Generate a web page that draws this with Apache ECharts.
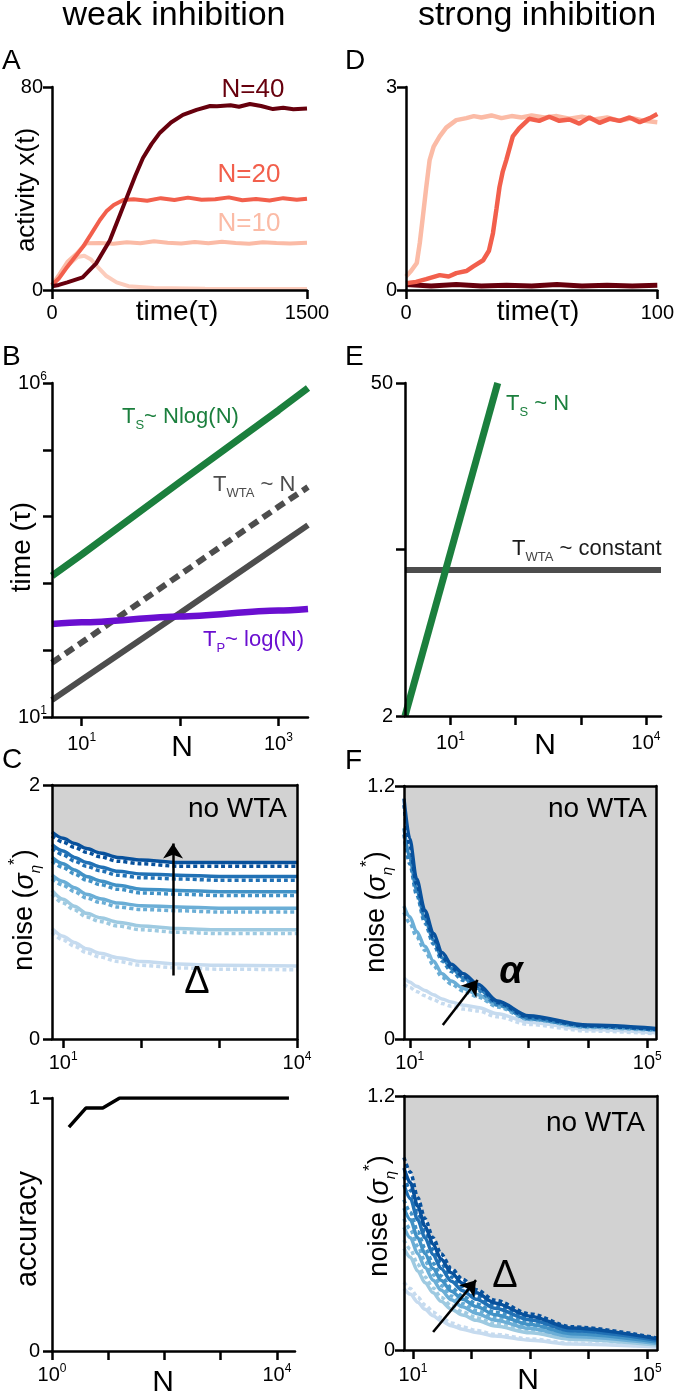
<!DOCTYPE html>
<html>
<head>
<meta charset="utf-8">
<script src="https://cdn.jsdelivr.net/npm/echarts@6/dist/echarts.min.js"></script>
<style>
  html, body { margin: 0; padding: 0; background: #fff; }
  #chart { width: 677px; height: 1395px; }
</style>
</head>
<body>
<div id="chart"></div>
<script>
var FONT = "'Liberation Sans', Arial, Helvetica, sans-serif";
var log = Math.log10;

// ---- A: weak inhibition, activity traces [time, x(t)]
var weakN40 = [[0,1.5],[40,2],[90,3],[180,5],[260,10.5],[340,19.5],[390,28],[440,36.5],[490,45],[535,52],[585,57.5],[635,62],[700,66],[770,69],[850,71],[930,72.5],[970,72.4],[1050,72.8],[1100,72.2],[1164,73.3],[1230,72.5],[1300,71.3],[1360,71.8],[1420,71.2],[1500,71.5]];
var weakN20 = [[0,2],[40,4.5],[88,9],[135,13],[182,17],[230,22],[282,27.6],[320,31],[363,33.5],[420,35.5],[480,35.8],[560,35.2],[640,36.2],[720,35.5],[800,36.4],[880,35.6],[960,35.8],[1040,36.5],[1120,35.4],[1200,35.9],[1280,35.3],[1360,36.2],[1440,35.6],[1500,36]];
var weakN10 = [[0,2],[41,6],[90,11],[147,14.5],[180,17],[204,18.4],[280,18.5],[360,18.2],[440,18.8],[520,18.4],[600,19.2],[680,18.6],[760,18.3],[840,18.9],[920,18.4],[1000,19.0],[1080,18.5],[1160,18.2],[1240,18.8],[1320,18.5],[1400,18.3],[1500,18.6]];
var weakN10Loser = [[0,1.5],[50,5.5],[100,10],[150,13],[190,13.5],[230,12],[270,9],[320,5.5],[380,3],[450,1.5],[600,0.8],[900,0.5],[1500,0.4]];

// ---- D: strong inhibition, activity traces [time, x(t)]
var strongN10 = [[0,0.2],[2,0.28],[4.3,0.4],[5.5,0.7],[6.7,1.08],[8,1.5],[9.4,1.92],[11,2.12],[13.4,2.27],[16,2.4],[20,2.51],[24,2.54],[27,2.57],[30,2.55],[34,2.58],[38,2.54],[42,2.57],[46,2.55],[50,2.58],[55,2.55],[60,2.57],[65,2.53],[70,2.56],[75,2.52],[80,2.55],[85,2.5],[90,2.54],[95,2.5],[100,2.48]];
var strongN20 = [[0,0.1],[4,0.12],[8,0.16],[13.4,0.22],[17,0.2],[20,0.25],[24,0.28],[26.8,0.35],[30.7,0.44],[33,0.58],[34.6,0.84],[36,1.2],[37.2,1.52],[38.5,1.75],[39.9,1.92],[42.5,2.27],[45,2.39],[49,2.53],[53,2.5],[57,2.56],[61,2.5],[65,2.52],[69,2.46],[73,2.55],[77,2.47],[81,2.53],[85,2.5],[89,2.55],[93,2.48],[97,2.54],[100,2.6]];
var strongN40 = [[0,0.08],[10,0.06],[20,0.08],[30,0.06],[40,0.07],[50,0.06],[60,0.08],[70,0.06],[80,0.07],[90,0.06],[100,0.07]];

// ---- B: time scaling, weak inhibition
var bN = [5, 10, 100, 1000, 2000];
var bSwitch = [1300, 2700, 33000, 390000, 840000];
var bWtaDashed = [65, 130, 1350, 14000, 27700];
var bWtaSolid = [18, 36, 360, 3700, 7450];
var bPlastic = [247, 261, 320, 392, 414];

// ---- E: time scaling, strong inhibition
var eSwitchN = [2, 53];
var eSwitch = [2, 50];
var eWtaN = [2, 17000];
var eWta = [8.2, 8.2];

// ---- C: critical noise, weak inhibition (light -> dark = increasing Delta)
var cN = [7.2, 10, 14, 20, 30, 50, 100, 300, 1000, 10000];
var cSolid = [
  [0.87, 0.81, 0.76, 0.71, 0.675, 0.64, 0.61, 0.59, 0.58, 0.575],
  [1.17, 1.10, 1.045, 0.99, 0.955, 0.92, 0.89, 0.87, 0.86, 0.86],
  [1.29, 1.24, 1.19, 1.14, 1.105, 1.07, 1.05, 1.04, 1.03, 1.03],
  [1.43, 1.38, 1.33, 1.28, 1.245, 1.21, 1.18, 1.17, 1.16, 1.16],
  [1.53, 1.48, 1.43, 1.39, 1.355, 1.32, 1.30, 1.29, 1.28, 1.28],
  [1.63, 1.58, 1.54, 1.50, 1.465, 1.43, 1.41, 1.39, 1.39, 1.39]
];
var cDashed = [
  [0.84, 0.78, 0.73, 0.68, 0.645, 0.61, 0.58, 0.56, 0.55, 0.545],
  [1.14, 1.07, 1.015, 0.96, 0.925, 0.89, 0.86, 0.84, 0.83, 0.83],
  [1.26, 1.21, 1.16, 1.11, 1.075, 1.04, 1.02, 1.01, 1.00, 1.00],
  [1.40, 1.35, 1.30, 1.25, 1.215, 1.18, 1.15, 1.14, 1.13, 1.13],
  [1.50, 1.45, 1.40, 1.36, 1.325, 1.29, 1.27, 1.26, 1.25, 1.25],
  [1.60, 1.55, 1.51, 1.47, 1.435, 1.40, 1.38, 1.36, 1.36, 1.36]
];
var cArrow = [[257, 0.50], [257, 1.54]];

// ---- accuracy, weak inhibition
var gN = [2, 4, 8, 16, 32, 64, 128, 256, 512, 1024, 2048, 4096, 8192, 16384];
var gAcc = [0.885, 0.96, 0.96, 1, 1, 1, 1, 1, 1, 1, 1, 1, 1, 1];

// ---- F: critical noise vs N, strong inhibition (light -> dark = increasing alpha)
var fN = [8, 10, 13, 18, 25, 35, 50, 80, 140, 300, 1000, 10000, 140000];
var fSolid = [
  [0.29, 0.27, 0.25, 0.23, 0.21, 0.19, 0.175, 0.16, 0.15, 0.12, 0.08, 0.045, 0.03],
  [0.63, 0.58, 0.51, 0.44, 0.37, 0.31, 0.275, 0.24, 0.21, 0.16, 0.10, 0.06, 0.045],
  [1.00, 0.86, 0.71, 0.57, 0.47, 0.385, 0.335, 0.29, 0.24, 0.17, 0.10, 0.063, 0.048],
  [1.14, 0.95, 0.76, 0.61, 0.50, 0.41, 0.355, 0.31, 0.26, 0.18, 0.11, 0.066, 0.05]
];
var fDashed = [
  [0.26, 0.245, 0.225, 0.205, 0.187, 0.168, 0.155, 0.142, 0.133, 0.105, 0.069, 0.038, 0.025],
  [0.60, 0.55, 0.485, 0.42, 0.35, 0.293, 0.26, 0.228, 0.20, 0.152, 0.093, 0.055, 0.04],
  [0.97, 0.83, 0.685, 0.55, 0.45, 0.37, 0.32, 0.278, 0.23, 0.163, 0.095, 0.059, 0.044],
  [1.11, 0.92, 0.735, 0.59, 0.48, 0.39, 0.34, 0.297, 0.25, 0.173, 0.104, 0.062, 0.046]
];
var fArrow = [[36, 0.066], [139, 0.28]];

// ---- H: critical noise vs N, strong inhibition (light -> dark = increasing Delta)
var hN = [7, 9, 12, 16, 22, 30, 45, 70, 120, 250, 1000, 5000, 147000];
var hSolid = [
  [0.29, 0.263, 0.226, 0.192, 0.162, 0.138, 0.115, 0.098, 0.083, 0.066, 0.046, 0.028, 0.014],
  [0.48, 0.438, 0.373, 0.318, 0.27, 0.23, 0.193, 0.165, 0.14, 0.113, 0.081, 0.05, 0.024],
  [0.58, 0.53, 0.455, 0.39, 0.33, 0.283, 0.237, 0.204, 0.173, 0.141, 0.101, 0.064, 0.031],
  [0.67, 0.615, 0.53, 0.455, 0.385, 0.33, 0.278, 0.24, 0.205, 0.167, 0.12, 0.077, 0.038],
  [0.78, 0.715, 0.615, 0.53, 0.45, 0.385, 0.325, 0.28, 0.24, 0.197, 0.142, 0.091, 0.046],
  [0.86, 0.79, 0.68, 0.585, 0.50, 0.43, 0.365, 0.315, 0.27, 0.222, 0.16, 0.104, 0.053]
];
var hDashed = [
  [0.32, 0.29, 0.25, 0.213, 0.18, 0.153, 0.128, 0.109, 0.092, 0.074, 0.052, 0.032, 0.016],
  [0.52, 0.475, 0.405, 0.345, 0.293, 0.25, 0.21, 0.18, 0.153, 0.124, 0.089, 0.055, 0.027],
  [0.62, 0.57, 0.49, 0.42, 0.355, 0.305, 0.255, 0.22, 0.187, 0.152, 0.11, 0.069, 0.034],
  [0.71, 0.65, 0.56, 0.48, 0.41, 0.35, 0.295, 0.255, 0.218, 0.178, 0.128, 0.082, 0.041],
  [0.82, 0.755, 0.65, 0.56, 0.475, 0.41, 0.345, 0.30, 0.255, 0.21, 0.15, 0.097, 0.05],
  [0.91, 0.84, 0.72, 0.62, 0.53, 0.455, 0.385, 0.335, 0.285, 0.235, 0.17, 0.11, 0.057]
];
var hArrow = [[22, 0.085], [119, 0.33]];

var reds = { n10: '#fbbba6', n20: '#f25f4c', n40: '#67000d' };
var blues6 = ['#c6dbef', '#9ecae1', '#6baed6', '#4292c6', '#2171b5', '#08519c'];
var blues4 = ['#c6dbef', '#6baed6', '#3182bd', '#08519c'];
var green = '#1b7f3d', gray = '#4d4d4d', purple = '#6a0fd0';
var panelGray = '#d2d2d2';

var dom = document.getElementById('chart');
var myChart = echarts.init(dom, null, { renderer: 'canvas' });

// grid layout (pixels)
var grids = [
  { left: 52, top: 87, width: 255, height: 203 },    // 0 A
  { left: 406, top: 87, width: 254, height: 203 },   // 1 D
  { left: 52, top: 383, width: 256, height: 334 },   // 2 B
  { left: 405, top: 383, width: 256, height: 333 },  // 3 E
  { left: 52, top: 785, width: 245, height: 254 },   // 4 C
  { left: 404, top: 786, width: 252, height: 253 },  // 5 F
  { left: 52, top: 1098, width: 243, height: 253 },  // 6 accuracy
  { left: 404, top: 1096, width: 253, height: 254 }  // 7 H
];
grids.forEach(function (g, i) {
  g.containLabel = false;
  if (i === 4 || i === 5 || i === 7) {
    g.show = true;
    g.backgroundColor = panelGray;
    g.borderWidth = 0;
  }
});

var supRich = { s: { fontSize: 12, fontFamily: FONT, color: '#000', verticalAlign: 'top', lineHeight: 12 } };
function pow10(v) { return '10{s|' + Math.round(v) + '}'; }
function plain(v) { return String(v); }

function ax(o) {
  var a = {
    type: 'value',
    axisLine: { show: true, onZero: false, lineStyle: { color: '#000', width: 2.5 } },
    axisTick: { show: true, inside: false, length: 9, lineStyle: { color: '#000', width: 2.5 } },
    axisLabel: { color: '#000', fontFamily: FONT, fontSize: 20, lineHeight: 24, formatter: plain },
    splitLine: { show: false },
    z: 5
  };
  for (var k in o) {
    if (a[k] && typeof o[k] === 'object' && !Array.isArray(o[k])) Object.assign(a[k], o[k]);
    else a[k] = o[k];
  }
  return a;
}
function logTicks(min, max, ticks, labels, margin) {
  return {
    min: log(min), max: log(max),
    axisTick: { customValues: ticks },
    axisLabel: { customValues: labels, formatter: pow10, rich: supRich, margin: margin }
  };
}
function merge(a, b) { for (var k in b) a[k] = b[k]; return a; }

var xAxes = [
  ax({ gridIndex: 0, min: 0, max: 1500, interval: 1500, axisLabel: { margin: 11 } }),
  ax({ gridIndex: 1, min: 0, max: 100, interval: 100, axisLabel: { margin: 11 } }),
  ax(merge({ gridIndex: 2 }, logTicks(5, 2000, [1, 2, 3], [1, 3], 15))),
  ax(merge({ gridIndex: 3 }, logTicks(2, 17000, [1, 2, 3, 4], [1, 4], 15))),
  ax(merge({ gridIndex: 4 }, logTicks(7.2, 10000, [1, 2, 3, 4], [1, 4], 12))),
  ax(merge({ gridIndex: 5 }, logTicks(8, 140000, [1, 2, 3, 4, 5], [1, 5], 12))),
  ax(merge({ gridIndex: 6 }, logTicks(1, 21000, [0, 1, 2, 3, 4], [0, 4], 12))),
  ax(merge({ gridIndex: 7 }, logTicks(7, 147000, [1, 2, 3, 4, 5], [1, 5], 13)))
];
var yAxes = [
  ax({ gridIndex: 0, min: 0, max: 80, interval: 80, axisLabel: { margin: 9 } }),
  ax({ gridIndex: 1, min: 0, max: 3, interval: 3, axisLabel: { margin: 9 } }),
  ax({ gridIndex: 2, min: 1, max: 6, axisTick: { customValues: [1, 2, 3, 4, 5, 6] },
       axisLabel: { customValues: [1, 6], formatter: pow10, rich: supRich, margin: 5 } }),
  ax({ gridIndex: 3, min: log(2), max: log(50), axisTick: { customValues: [log(2), 1, log(50)] },
       axisLabel: { customValues: [log(2), log(50)], margin: 12,
                    formatter: function (v) { return String(Math.round(Math.pow(10, v))); } } }),
  ax({ gridIndex: 4, min: 0, max: 2, interval: 2, axisLabel: { margin: 12 } }),
  ax({ gridIndex: 5, min: 0, max: 1.2, interval: 1.2, axisLabel: { margin: 9 } }),
  ax({ gridIndex: 6, min: 0, max: 1, interval: 1, axisLabel: { margin: 12 } }),
  ax({ gridIndex: 7, min: 0, max: 1.2, interval: 1.2, axisLabel: { margin: 9 } })
];
// frame (top / right) for the shaded panels
[4, 5, 7].forEach(function (gi) {
  xAxes.push({ type: 'value', gridIndex: gi, position: 'top', min: xAxes[gi].min, max: xAxes[gi].max,
    axisLine: { show: true, onZero: false, lineStyle: { color: '#000', width: 2.5 } },
    axisTick: { show: false }, axisLabel: { show: false }, splitLine: { show: false }, z: 5 });
  yAxes.push({ type: 'value', gridIndex: gi, position: 'right', min: yAxes[gi].min, max: yAxes[gi].max,
    axisLine: { show: true, onZero: false, lineStyle: { color: '#000', width: 2.5 } },
    axisTick: { show: false }, axisLabel: { show: false }, splitLine: { show: false }, z: 5 });
});

var series = [];
function pushLine(gi, data, color, width, opt) {
  opt = opt || {};
  series.push({
    type: 'line', xAxisIndex: gi, yAxisIndex: gi, data: data,
    showSymbol: false, symbol: 'none', silent: true,
    smooth: opt.smooth || false, smoothMonotone: opt.smooth ? 'x' : null,
    lineStyle: { color: color, width: width, type: opt.dash || 'solid', cap: 'butt', opacity: opt.opacity || 1 },
    areaStyle: opt.area ? { color: '#fff', opacity: 1 } : null,
    z: opt.z || 2
  });
}
function logPairs(xs, ys, logY) {
  return xs.map(function (x, i) { return [log(x), logY ? log(ys[i]) : ys[i]]; });
}
function pushArrow(gi, pts) {
  series.push({
    type: 'lines', coordinateSystem: 'cartesian2d', xAxisIndex: gi, yAxisIndex: gi,
    silent: true, symbol: ['none', 'arrow'], symbolSize: 15,
    lineStyle: { color: '#000', width: 2.5, opacity: 1, curveness: 0 },
    data: [{ coords: pts.map(function (p) { return [log(p[0]), p[1]]; }) }],
    z: 10
  });
}

var SM = 0.3;
// A
pushLine(0, weakN10Loser, reds.n10, 4, { opacity: 0.75 });
pushLine(0, weakN10, reds.n10, 4);
pushLine(0, weakN20, reds.n20, 4);
pushLine(0, weakN40, reds.n40, 4);
// D
pushLine(1, strongN40, reds.n40, 5);
pushLine(1, strongN10, reds.n10, 4.5);
pushLine(1, strongN20, reds.n20, 4.5);
// B
pushLine(2, logPairs(bN, bSwitch, true), green, 7);
pushLine(2, logPairs(bN, bWtaDashed, true), gray, 6, { dash: [10, 6] });
pushLine(2, logPairs(bN, bWtaSolid, true), gray, 6);
pushLine(2, logPairs(bN, bPlastic, true), purple, 6.5, { smooth: SM });
// E
pushLine(3, logPairs(eWtaN, eWta, true), gray, 6);
pushLine(3, logPairs(eSwitchN, eSwitch, true), green, 7);
// C
pushLine(4, logPairs(cN, cSolid[5]), '#fff', 0, { area: true, smooth: SM, z: 1 });
cSolid.forEach(function (ys, i) {
  pushLine(4, logPairs(cN, cDashed[i]), blues6[i], 3.5, { dash: [4, 3], smooth: SM });
  pushLine(4, logPairs(cN, ys), blues6[i], 3.5, { smooth: SM });
});
pushArrow(4, cArrow);
// accuracy
pushLine(6, logPairs(gN, gAcc), '#000', 3.5);
// F
pushLine(5, logPairs(fN, fSolid[3]), '#fff', 0, { area: true, smooth: SM, z: 1 });
fSolid.forEach(function (ys, i) {
  pushLine(5, logPairs(fN, fDashed[i]), blues4[i], 3.5, { dash: [4, 3], smooth: SM });
  pushLine(5, logPairs(fN, ys), blues4[i], 3.5, { smooth: SM });
});
pushArrow(5, fArrow);
// H
pushLine(7, logPairs(hN, hDashed[5]), '#fff', 0, { area: true, smooth: SM, z: 1 });
hSolid.forEach(function (ys, i) {
  pushLine(7, logPairs(hN, ys), blues6[i], 3.5, { smooth: SM });
  pushLine(7, logPairs(hN, hDashed[i]), blues6[i], 3.5, { dash: [4, 3], smooth: SM });
});
pushArrow(7, hArrow);

// text
function txt(x, y, text, size, o) {
  o = o || {};
  return {
    type: 'text', x: x, y: y, rotation: o.rot || 0, z: 100, silent: true,
    style: {
      text: text, fontSize: size, fontFamily: FONT, fill: o.color || '#000',
      align: o.align || 'center', verticalAlign: 'middle',
      fontStyle: o.italic ? 'italic' : 'normal', fontWeight: o.bold ? 'bold' : 'normal',
      lineHeight: o.lh || Math.round(size * 1.3), rich: o.rich
    }
  };
}
function subR(size, color) {
  return { s: { fontSize: size, fontFamily: FONT, fill: color, verticalAlign: 'bottom', lineHeight: size } };
}
var noiseRich = {
  i: { fontSize: 27, fontFamily: FONT, fontStyle: 'italic', fill: '#000', lineHeight: 36 },
  s: { fontSize: 15, fontFamily: FONT, fontStyle: 'italic', fill: '#000', verticalAlign: 'bottom', lineHeight: 15 },
  p: { fontSize: 17, fontFamily: FONT, fill: '#000', verticalAlign: 'top', lineHeight: 17 }
};
var noiseText = 'noise ({i|σ}{s|η}{p|*})';
var R = Math.PI / 2;

var graphics = [
  txt(174, 16, 'weak inhibition', 34),
  txt(537, 16, 'strong inhibition', 34),
  txt(2, 61, 'A', 28, { align: 'left' }),
  txt(345, 61, 'D', 28, { align: 'left' }),
  txt(2, 357, 'B', 28, { align: 'left' }),
  txt(345, 357, 'E', 28, { align: 'left' }),
  txt(2, 760, 'C', 28, { align: 'left' }),
  txt(345, 761, 'F', 28, { align: 'left' }),
  // axis names
  txt(27, 190, 'activity x(t)', 26, { rot: R }),
  txt(177, 312, 'time(τ)', 28),
  txt(538, 312, 'time(τ)', 28),
  txt(22, 547, 'time (τ)', 28, { rot: R }),
  txt(182, 748, 'N', 30),
  txt(545, 746, 'N', 30),
  txt(25, 910, noiseText, 27, { rot: R, rich: noiseRich, lh: 36 }),
  txt(377, 912, noiseText, 27, { rot: R, rich: noiseRich, lh: 36 }),
  txt(380, 1216, noiseText, 27, { rot: R, rich: noiseRich, lh: 36 }),
  txt(28, 1229, 'accuracy', 29, { rot: R }),
  txt(163, 1383, 'N', 30),
  txt(528, 1381, 'N', 30),
  // annotations
  txt(253, 90, 'N=40', 26, { color: reds.n40 }),
  txt(249, 175, 'N=20', 26, { color: reds.n20 }),
  txt(249, 224, 'N=10', 26, { color: reds.n10 }),
  txt(122, 417, 'T{s|S}~ Nlog(N)', 22, { align: 'left', color: green, rich: subR(13, green) }),
  txt(213, 485, 'T{s|WTA} ~ N', 22, { align: 'left', color: gray, rich: subR(13, gray) }),
  txt(203, 640, 'T{s|P}~ log(N)', 22, { align: 'left', color: purple, rich: subR(13, purple) }),
  txt(506, 404, 'T{s|S} ~ N', 22, { align: 'left', color: green, rich: subR(13, green) }),
  txt(512, 549, 'T{s|WTA} ~ constant', 22, { align: 'left', color: '#1a1a1a', rich: subR(13, '#444') }),
  txt(287, 809, 'no WTA', 28, { align: 'right' }),
  txt(647, 809, 'no WTA', 28, { align: 'right' }),
  txt(645, 1123, 'no WTA', 28, { align: 'right' }),
  txt(197, 983, 'Δ', 38),
  txt(511, 973, 'α', 38, { italic: true, bold: true }),
  txt(505, 1277, 'Δ', 38)
];

var option = {
  animation: false,
  backgroundColor: '#fff',
  grid: grids,
  xAxis: xAxes,
  yAxis: yAxes,
  series: series,
  graphic: graphics
};
myChart.setOption(option);
</script>
</body>
</html>
